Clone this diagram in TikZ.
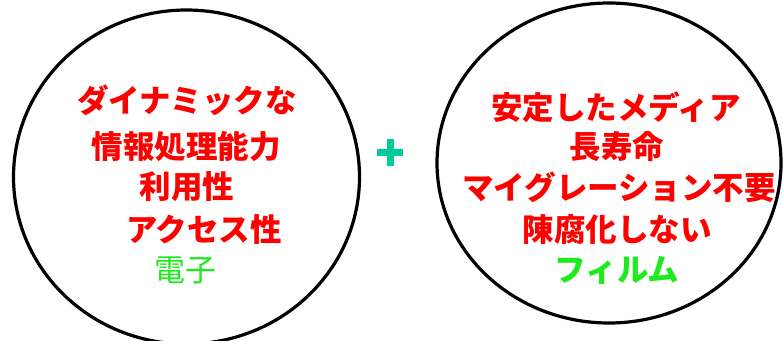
\documentclass[tikz,border=0pt]{standalone}
\usepackage{fontspec}
\newfontfamily\cjk{Noto Sans CJK JP}
\usetikzlibrary{shapes.geometric}
\definecolor{txtred}{RGB}{255,0,0}
\definecolor{txtgreen}{RGB}{30,235,30}
\definecolor{plusteal}{RGB}{0,204,153}
\tikzset{
  bubble/.style={draw=black, line width=3.2pt, ellipse, inner sep=0pt},
  redline/.style={text=txtred, font=\cjk\bfseries\fontsize{31.5}{36}\selectfont, inner sep=0pt},
  greenreg/.style={text=txtgreen, font=\cjk\fontsize{31}{36}\selectfont, inner sep=0pt},
  greenbold/.style={text=txtgreen, font=\cjk\bfseries\fontsize{31.5}{36}\selectfont, inner sep=0pt},
  plusbar/.style={fill=plusteal, draw=none}
}
\begin{document}
\begin{tikzpicture}[x=1pt,y=-1pt]
\useasboundingbox (0,0) rectangle (783,340);
\node[bubble, minimum width=346pt, minimum height=334pt] (left) at (186.5,177) {};
\node[bubble, minimum width=344pt, minimum height=320pt] (right) at (609,163) {};
% left texts
\node[redline] (l1) at (187,100) {ダイナミックな};
\node[redline] (l2) at (186,147) {情報処理能力};
\node[redline] (l3) at (187,187) {利用性};
\node[redline] (l4) at (204,230) {アクセス性};
\node[greenreg] (l5) at (185,270) {電子};
% right texts
\node[redline] (r1) at (616,107) {安定したメディア};
\node[redline] (r2) at (617,147) {長寿命};
\node[redline] (r3) at (619,187) {マイグレーション不要};
\node[redline] (r4) at (617,230) {陳腐化しない};
\node[greenbold] (r5) at (617,270) {フィルム};
% plus
\fill[plusteal] (377,149) rectangle (403,156);
\fill[plusteal] (386.5,139) rectangle (393.5,166);
\end{tikzpicture}
\end{document}
